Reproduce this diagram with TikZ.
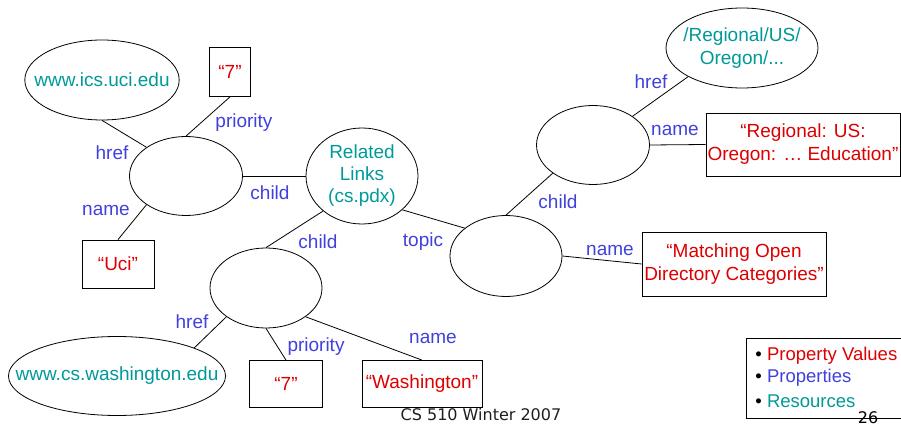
\documentclass[tikz,border=0pt]{standalone}
\usepackage{fontspec}
\setmainfont{Liberation Sans}
\newfontfamily\footfont{DejaVu Sans}
\usetikzlibrary{shapes.geometric}
\definecolor{resteal}{RGB}{0,153,153}
\definecolor{valred}{RGB}{221,0,0}
\definecolor{propblue}{RGB}{64,64,221}
\definecolor{footgray}{RGB}{30,30,30}

\begin{document}
\begin{tikzpicture}[x=1pt,y=-1pt,line width=0.8pt,
    res/.style={ellipse,draw,inner sep=0pt,align=center,text=resteal,
      font=\fontsize{19}{23}\selectfont},
    val/.style={rectangle,draw,inner sep=0pt,align=center,text=valred,
      font=\fontsize{19}{23}\selectfont},
    prop/.style={inner sep=0pt,text=propblue,font=\fontsize{19}{22}\selectfont},
    key/.style={anchor=west,inner sep=0pt,font=\fontsize{18.5}{22}\selectfont}]
        \useasboundingbox (0,0) rectangle (901,427);
        % resources and values
        \draw (102,80) node[res,inner xsep=-13pt,minimum width=152,minimum height=80] (ics) {www.ics.uci.edu};
        \draw (230,72) node[val,minimum width=41,minimum height=49] (sevenA) {``7''};
        \draw (186,176) node[res,minimum width=113,minimum height=79] (uci) {};
        \draw (118,264) node[val,minimum width=72,minimum height=48] (uciname) {``Uci''};
        \draw (362,176) node[res,minimum width=112,minimum height=96,
              font=\fontsize{19}{22}\selectfont] (rel) {Related\\Links\\(cs.pdx)};
        \draw (266,288) node[res,minimum width=112,minimum height=80] (wash) {};
        \draw (117,376) node[res,inner xsep=-25pt,minimum width=217,minimum height=79] (washurl) {www.cs.washington.edu};
        \draw (286,384) node[val,minimum width=73,minimum height=47] (sevenB) {``7''};
        \draw (422,384) node[val,minimum width=120,minimum height=47] (washname) {``Washington''};
        \draw (506,256) node[res,minimum width=112,minimum height=81] (topic) {};
        \draw (734,264) node[val,minimum width=184,minimum height=64] (match) {``Matching Open\\Directory Categories''};
        \draw (593,145) node[res,minimum width=113,minimum height=79] (oreg) {};
        \draw (742,48) node[res,inner xsep=-6pt,minimum width=152,minimum height=80] (oregurl) {/Regional/US/\\Oregon/...};
        \draw (803,144.5) node[val,minimum width=194,minimum height=63] (regname) {``Regional: US:\\Oregon: \dots\ Education''};
        % edges
        \draw (ics.south) -- (uci.144);
        \draw (sevenA.south) -- (uci.north);
        \draw (uci.216) -- (uciname.north);
        \draw (uci.east) -- (rel.west);
        \draw (wash.north) -- (rel.222);
        \draw (rel.320) -- (topic.146);
        \draw (wash.216) -- (washurl.20);
        \draw (wash.south) -- (sevenB.north);
        \draw (wash.324) -- (washname.north);
        \draw (topic.north) -- (oreg.215);
        \draw (topic.east) -- (match.west);
        \draw (oreg.36) -- (oregurl.208);
        \draw (oreg.east) -- (regname.west);
        % properties
        \draw (112,153) node[prop] (hrefA) {href};
        \draw (106,210) node[prop] (nameA) {name};
        \draw (244,123) node[prop] (prioA) {priority};
        \draw (270,193) node[prop] (childA) {child};
        \draw (318,242) node[prop] (childB) {child};
        \draw (423,242) node[prop] (topicA) {topic};
        \draw (558,202) node[prop] (childC) {child};
        \draw (651,82) node[prop] (hrefB) {href};
        \draw (675,130) node[prop] (nameB) {name};
        \draw (610,250) node[prop] (nameC) {name};
        \draw (192,322) node[prop] (hrefC) {href};
        \draw (316,347) node[prop] (prioB) {priority};
        \draw (433,338) node[prop] (nameD) {name};
        % legend
        \draw (746,338) rectangle (912,418);
        \draw (755,356) node[key] (keyval) {\textbullet\ \textcolor{valred}{Property Values}};
        \draw (755,378) node[key] (keyprop) {\textbullet\ \textcolor{propblue}{Properties}};
        \draw (755,401) node[key] (keyres) {\textbullet\ \textcolor{resteal}{Resources}};
        % footer
        \draw (481,415) node[text=footgray,inner sep=0pt,font=\footfont\fontsize{16}{19}\selectfont] (footer) {CS 510 Winter 2007};
        \draw (868,418) node[text=black,inner sep=0pt,font=\footfont\fontsize{16}{19}\selectfont] (pagenum) {26};
\end{tikzpicture}
\end{document}
